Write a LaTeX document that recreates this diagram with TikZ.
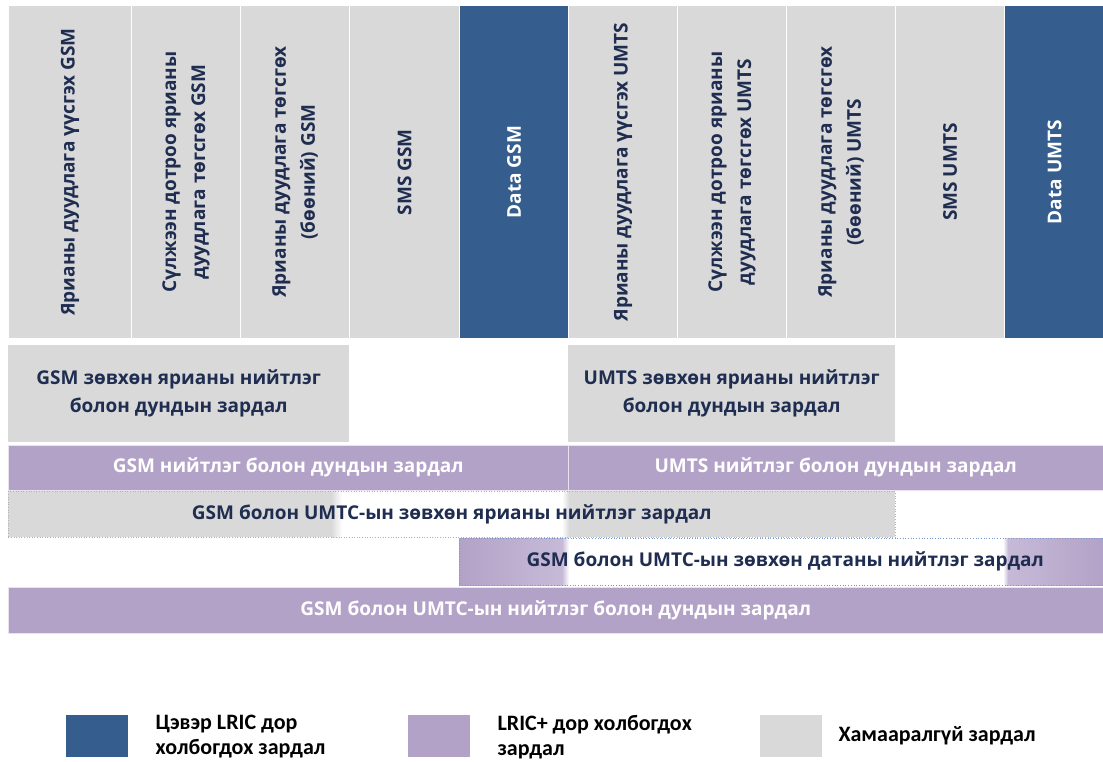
\documentclass[tikz,border=0pt]{standalone}
\usepackage{fontspec}
\setmainfont{Open Sans}
\newfontfamily\legendfont{Carlito}
\definecolor{navyc}{RGB}{31,45,80}
\definecolor{bluec}{RGB}{53,94,142}
\definecolor{purplec}{RGB}{179,162,199}
\definecolor{lilac}{RGB}{198,186,216}
\definecolor{greyc}{RGB}{217,217,217}
\definecolor{dotblue}{RGB}{120,150,200}
\tikzset{
  colbox/.style={draw=white, line width=1.2pt, minimum height=333, inner sep=0pt},
  colgrey/.style={colbox, fill=greyc},
  colblue/.style={colbox, fill=bluec},
  coltext/.style={rotate=90, align=center, font=\bfseries\fontsize{19}{29}\selectfont},
  greybox/.style={fill=greyc, inner sep=0pt, anchor=north west},
  purplebar/.style={fill=purplec, draw=white!70!purplec, line width=0.6pt, inner sep=0pt, anchor=north west},
  darktext/.style={text=navyc, align=center, font=\bfseries\fontsize{19}{28}\selectfont},
  lighttext/.style={text=white, align=center, font=\bfseries\fontsize{19}{28}\selectfont},
  legendbox/.style={minimum width=62, minimum height=42, inner sep=0pt, anchor=north west},
  legendtext/.style={anchor=north west, align=left, inner sep=0pt, font=\legendfont\bfseries\fontsize{22}{25}\selectfont}
}
\begin{document}
\begin{tikzpicture}[x=1pt, y=-1pt]
\useasboundingbox (0,0) rectangle (1103,761);
% service columns
\foreach \xl/\w/\s/\c/\t [count=\i] in {
    8/123/colgrey/navyc/{Ярианы дуудлага үүсгэх GSM},
    131/109/colgrey/navyc/{Сүлжээн дотроо ярианы\\дуудлага төгсгөх GSM},
    240/109/colgrey/navyc/{Ярианы дуудлага төгсгөх\\(бөөний) GSM},
    349/110/colgrey/navyc/{SMS GSM},
    459/109/colblue/white/{Data GSM},
    568/109/colgrey/navyc/{Ярианы дуудлага үүсгэх UMTS},
    677/109/colgrey/navyc/{Сүлжээн дотроо ярианы\\дуудлага төгсгөх  UMTS},
    786/109/colgrey/navyc/{Ярианы дуудлага төгсгөх\\(бөөний) UMTS},
    895/109/colgrey/navyc/{SMS UMTS},
    1004/100/colblue/white/{Data UMTS}}
{
  \node[\s, minimum width=\w, anchor=north west] (col\i) at (\xl,5) {};
  \node[coltext, text=\c] at (col\i.center) {\t};
}
% voice-only rows
\node[greybox, minimum width=341, minimum height=97] (gsmvoice) at (8,345) {};
\node[greybox, minimum width=327, minimum height=97] (umtsvoice) at (568,345) {};
\node[darktext] at (gsmvoice.center) {GSM зөвхөн ярианы нийтлэг\\болон дундын зардал};
\node[darktext] at (umtsvoice.center) {UMTS зөвхөн ярианы нийтлэг\\болон дундын зардал};
% common and shared costs per technology
\node[purplebar, minimum width=560, minimum height=45] (gsmcommon) at (8,445) {};
\node[purplebar, minimum width=535, minimum height=45] (umtscommon) at (568,445) {};
\node[lighttext] at (gsmcommon.center) {GSM нийтлэг болон дундын зардал};
\node[lighttext] at (umtscommon.center) {UMTS нийтлэг болон дундын зардал};
% voice common to both
\fill[greyc] (8,491) rectangle (895,537);
\shade[left color=greyc, right color=white] (331,491) rectangle (342,537);
\fill[white] (342,491) rectangle (562,537);
\shade[left color=white, right color=greyc] (562,491) rectangle (569,537);
\node[draw=black!30, dotted, line width=0.6pt, minimum width=887, minimum height=46, inner sep=0pt, anchor=north west] (bothvoice) at (8,491) {};
\node[darktext] at (bothvoice.center) {GSM болон UMTC-ын зөвхөн ярианы нийтлэг зардал};
% data common to both
\shade[left color=purplec, right color=lilac] (459,538) rectangle (562,585);
\shade[left color=lilac, right color=white] (562,538) rectangle (569,585);
\shade[left color=white, right color=lilac] (1003,538) rectangle (1008,585);
\shade[left color=lilac, right color=purplec] (1008,538) rectangle (1103,585);
\node[draw=dotblue, dotted, line width=0.7pt, minimum width=644, minimum height=47, inner sep=0pt, anchor=north west] (bothdata) at (459,538) {};
\node[darktext, xshift=4pt] at (bothdata.center) {GSM болон UMTC-ын зөвхөн датаны нийтлэг зардал};
% all common and shared
\node[purplebar, minimum width=1095, minimum height=46] (allcommon) at (8,587) {};
\node[lighttext] at (allcommon.center) {GSM болон UMTC-ын нийтлэг болон дундын зардал};
% legend
\node[legendbox, fill=bluec] (legblue) at (66,715) {};
\node[legendtext] at ([xshift=27pt]legblue.north east) {Цэвэр LRIC дор\\холбогдох зардал};
\node[legendbox, fill=purplec] (legpurple) at (408,715) {};
\node[legendtext] at ([xshift=27pt]legpurple.north east) {LRIC+ дор холбогдох\\зардал};
\node[legendbox, fill=greyc] (leggrey) at (760,715) {};
\node[legendtext, anchor=west] at ([xshift=16pt]leggrey.east) {Хамааралгүй зардал};
\end{tikzpicture}
\end{document}
